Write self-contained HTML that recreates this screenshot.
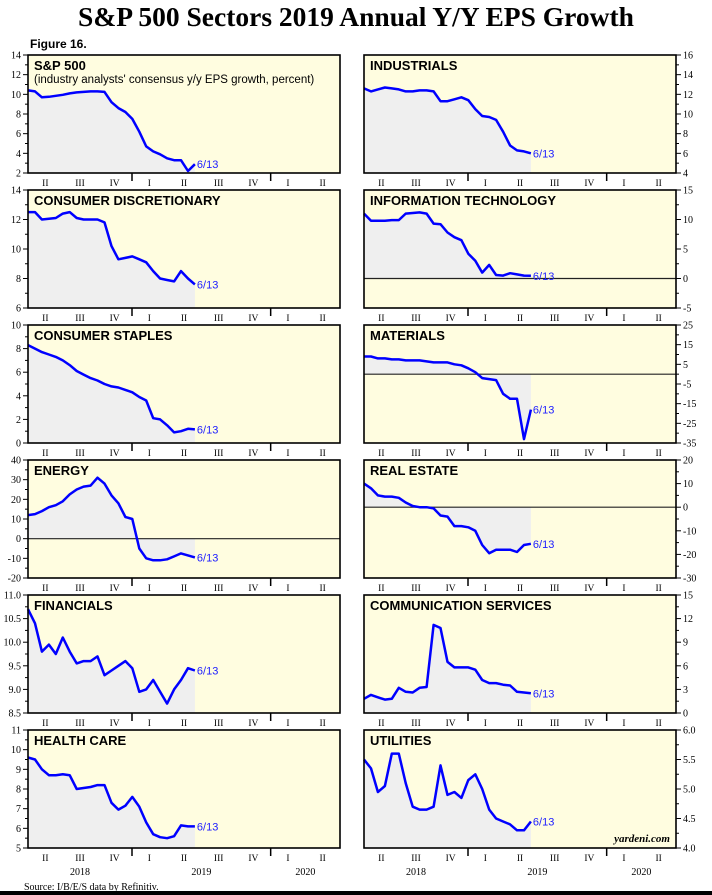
<!DOCTYPE html>
<html><head><meta charset="utf-8">
<style>
html,body{margin:0;padding:0;background:#fff;}
svg{display:block;}
</style></head>
<body>
<svg id="chart" width="712" height="895" xmlns="http://www.w3.org/2000/svg">
<text x="356" y="26" text-anchor="middle" font-family="Liberation Serif, serif" font-weight="bold" font-size="27.5">S&amp;P 500 Sectors 2019 Annual Y/Y EPS Growth</text>
<text x="30" y="48" font-family="Liberation Sans, sans-serif" font-weight="bold" font-size="12">Figure 16.</text>
<text x="24" y="890" font-family="Liberation Serif, serif" font-size="10" text-decoration="underline">Source: I/B/E/S data by Refinitiv.</text>
<rect x="0" y="891" width="712" height="4" fill="#000"/>
</svg>
<script>
const panelNames = ["S&P 500","INDUSTRIALS","CONSUMER DISCRETIONARY","INFORMATION TECHNOLOGY","CONSUMER STAPLES","MATERIALS","ENERGY","REAL ESTATE","FINANCIALS","COMMUNICATION SERVICES","HEALTH CARE","UTILITIES"];
const yMins = [2,4,6,-5,0,-35,-20,-30,8.5,0,5,4.0];
const yMaxs = [14,16,14,15,10,25,40,20,11.0,15,11,6.0];
const ySteps = [2,2,2,5,2,10,10,10,0.5,3,1,0.5];
const yDecimals = [0,0,0,0,0,0,0,0,1,0,0,1];
const quarterLabels = ["II","III","IV","I","II","III","IV","I","II"];
const yearLabels = ["2018","2019","2020"];
const endLabel = "6/13";
const spx = [10.4,10.3,9.7,9.75,9.85,9.95,10.1,10.2,10.25,10.3,10.3,10.25,9.2,8.6,8.2,7.5,6.2,4.7,4.2,3.9,3.5,3.3,3.3,2.2,2.9];
const industrials = [12.6,12.3,12.5,12.7,12.6,12.5,12.3,12.3,12.4,12.4,12.3,11.3,11.3,11.5,11.7,11.4,10.5,9.8,9.7,9.4,8.2,6.8,6.3,6.2,6.0];
const consDisc = [12.5,12.5,12.0,12.05,12.1,12.4,12.5,12.1,12.0,12.0,12.0,11.8,10.2,9.3,9.4,9.5,9.3,9.1,8.5,8.0,7.9,7.8,8.5,8.0,7.6];
const infoTech = [11,9.8,9.8,9.8,9.9,9.9,11,11.1,11.2,11,9.3,9.2,7.8,7.0,6.5,4.2,3.0,1.0,2.3,0.6,0.5,0.9,0.7,0.5,0.45];
const staples = [8.3,8.0,7.7,7.5,7.3,7.0,6.6,6.1,5.8,5.5,5.3,5.0,4.8,4.7,4.5,4.3,3.9,3.6,2.1,2.0,1.5,0.9,1.0,1.2,1.15];
const materials = [9,9,8,8,7.5,7.5,7,7,7,6.5,6,6,6,5,4.5,3,1,-2,-2.5,-3,-10,-12.5,-12.5,-33,-18];
const energy = [12,12.5,14,16,17,19,22.5,25,26.5,27,31,28,22,18,11,10,-5,-10,-11,-11,-10.5,-9,-7.5,-8.5,-9.5];
const realEstate = [10,8,5,4.5,4.5,4,2,0.5,0,0,-0.5,-3.5,-4,-8,-8,-8.5,-10,-16,-19.5,-18,-18,-18,-19,-16,-15.5];
const financials = [10.7,10.4,9.8,9.95,9.75,10.1,9.8,9.55,9.6,9.6,9.7,9.3,9.4,9.5,9.6,9.45,8.95,9.0,9.2,8.95,8.7,9.0,9.2,9.45,9.4];
const commServices = [1.8,2.3,2.0,1.7,1.8,3.2,2.7,2.6,3.2,3.3,11.2,10.8,6.5,5.8,5.8,5.8,5.5,4.2,3.8,3.8,3.6,3.5,2.7,2.6,2.5];
const healthCare = [9.6,9.5,9.0,8.7,8.7,8.75,8.7,8.0,8.05,8.1,8.2,8.2,7.3,6.95,7.15,7.6,7.1,6.3,5.7,5.55,5.5,5.6,6.15,6.1,6.1];
const utilities = [5.5,5.35,4.95,5.05,5.6,5.6,5.1,4.7,4.65,4.65,4.7,5.4,4.9,4.95,4.85,5.15,5.25,5.0,4.65,4.5,4.45,4.4,4.3,4.3,4.45];
const seriesList = [spx,industrials,consDisc,infoTech,staples,materials,energy,realEstate,financials,commServices,healthCare,utilities];

const NS = "http://www.w3.org/2000/svg";
const svg = document.getElementById("chart");
function mk(tag, attrs, parent){
  const e = document.createElementNS(NS, tag);
  for (const k in attrs) e.setAttribute(k, attrs[k]);
  (parent||svg).appendChild(e);
  return e;
}
const PW = 312, PH = 118, DATA_FRAC = 0.535;
for (let p = 0; p < 12; p++) {
  const col = p % 2, row = Math.floor(p / 2);
  const x0 = col === 0 ? 28 : 364;
  const y0 = 55 + row * 135;
  const yMin = yMins[p], yMax = yMaxs[p];
  const slug = panelNames[p].toLowerCase().replace(/&/g,"").replace(/[^a-z0-9]+/g,"-");
  const g = mk("g", {});
  
  
  const yS = v => y0 + PH - (v - yMin) / (yMax - yMin) * PH;
  const data = seriesList[p];
  const xS = i => x0 + (i / (data.length - 1)) * PW * DATA_FRAC;
  const bg = mk("rect", {x:x0, y:y0, width:PW, height:PH, fill:"#fffde0"}, g);
  
  
  const base = Math.min(Math.max(0, yMin), yMax);
  let d = "M" + xS(0) + "," + yS(base);
  data.forEach((v, i) => { d += " L" + xS(i).toFixed(1) + "," + yS(v).toFixed(1); });
  d += " L" + xS(data.length - 1) + "," + yS(base) + " Z";
  const area = mk("path", {d:d, fill:"#efefef"}, g);
  
  
  if (yMin < 0 && yMax > 0) {
    const z = mk("line", {x1:x0, x2:x0+PW, y1:yS(0), y2:yS(0), stroke:"#222", "stroke-width":1.2}, g);
    
    
  }
  let ld = "";
  data.forEach((v, i) => { ld += (i ? " L" : "M") + xS(i).toFixed(1) + "," + yS(v).toFixed(1); });
  const line = mk("path", {d:ld, fill:"none", stroke:"#0000ff", "stroke-width":2.5, "stroke-linejoin":"round"}, g);
  
  
  const lt = mk("text", {x:xS(data.length-1)+2, y:yS(data[data.length-1])+4, fill:"#2020ff", "font-family":"Liberation Sans, sans-serif", "font-size":11}, g);
  lt.textContent = endLabel;
  
  
  const fr = mk("rect", {x:x0, y:y0, width:PW, height:PH, fill:"none", stroke:"#000", "stroke-width":1.6}, g);
  
  
  const t = mk("text", {x:x0+6, y:y0+15, "font-family":"Liberation Sans, sans-serif", "font-weight":"bold", "font-size":13}, g);
  t.textContent = panelNames[p];
  
  
  if (p === 0) {
    const st = mk("text", {x:x0+6, y:y0+28, "font-family":"Liberation Sans, sans-serif", "font-size":11.5}, g);
    st.textContent = "(industry analysts' consensus y/y EPS growth, percent)";
    
    
  }
  const step = ySteps[p];
  const nT = Math.round((yMax - yMin) / step);
  const ax = col === 0 ? x0 : x0 + PW;
  const dir = col === 0 ? -1 : 1;
  for (let k = 0; k <= nT; k++) {
    const v = yMin + k * step;
    const yy = yS(v);
    mk("line", {x1:ax, x2:ax+dir*5, y1:yy, y2:yy, stroke:"#000", "stroke-width":1}, g);
    if (k < nT) {
      const ym = yS(v + step/2);
      mk("line", {x1:ax, x2:ax+dir*3, y1:ym, y2:ym, stroke:"#000", "stroke-width":1}, g);
    }
    const tl = mk("text", {x:ax+dir*7, y:yy+3.5, "text-anchor":col===0?"end":"start", "font-family":"Liberation Serif, serif", "font-size":10}, g);
    tl.textContent = v.toFixed(yDecimals[p]);
    
    
  }
  const qw = PW / quarterLabels.length;
  quarterLabels.forEach((q, i) => {
    const ql = mk("text", {x:x0 + qw*(i+0.5), y:y0+PH+13, "text-anchor":"middle", "font-family":"Liberation Serif, serif", "font-size":9.5}, g);
    ql.textContent = q;
    
    
  });
  [3, 7].forEach(i => {
    mk("line", {x1:x0+qw*i, x2:x0+qw*i, y1:y0+PH, y2:y0+PH+8, stroke:"#000", "stroke-width":1.5}, g);
  });
  if (row === 5) {
    [1.5, 5.5, 8.5].forEach((c, i) => {
      const yl = mk("text", {x:x0 + qw*(c-0.5) + (i===0?qw*0.5:0), y:y0+PH+27, "text-anchor":"middle", "font-family":"Liberation Serif, serif", "font-size":10}, g);
      yl.textContent = yearLabels[i];
      
      
    });
  }
  if (p === 11) {
    const yd = mk("text", {x:x0+PW-6, y:y0+PH-6, "text-anchor":"end", "font-family":"Liberation Serif, serif", "font-weight":"bold", "font-style":"italic", "font-size":11}, g);
    yd.textContent = "yardeni.com";
    
    
  }
}
</script>
</body></html>
